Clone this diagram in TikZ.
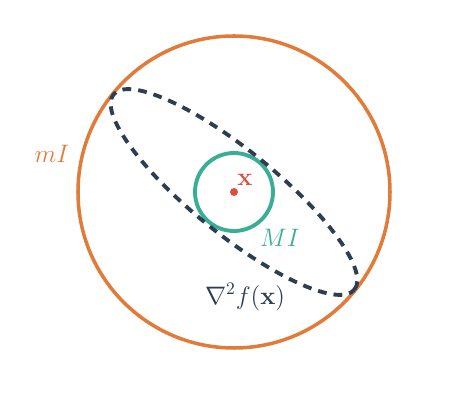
\documentclass[tikz,border=0pt]{standalone}
\usepackage{amsmath}
\definecolor{orangeC}{HTML}{E07B39}
\definecolor{tealC}{HTML}{3AAE94}
\definecolor{darkC}{HTML}{2C3E50}
\definecolor{redC}{HTML}{D9503F}
\begin{document}
\begin{tikzpicture}
	\useasboundingbox (-4.68, -4.16) rectangle (4.64, 3.84);
	% m I and M I bounds
	\draw[orangeC, line width=2pt] (0, 0) circle (3.12);
	\draw[tealC, line width=2.2pt] (0, 0) circle (0.78);
	\draw[darkC, line width=2.2pt, dash pattern=on 5pt off 4pt, rotate=-39] (0, 0) ellipse (3.1 and 0.84);
	\fill[redC] (0, 0) circle (0.08);
	
	\node[text=redC] (lx) at (0.22, 0.24) {\Large$\mathbf{x}$};
	\node[text=orangeC] (lmI) at (-3.64, 0.76) {\Large$mI$};
	\node[text=tealC] (lMI) at (0.92, -0.92) {\Large$MI$};
	\node[text=darkC] (lhess) at (0.22, -2.1) {\Large$\nabla^2 f(\mathbf{x})$};
\end{tikzpicture}
\end{document}
